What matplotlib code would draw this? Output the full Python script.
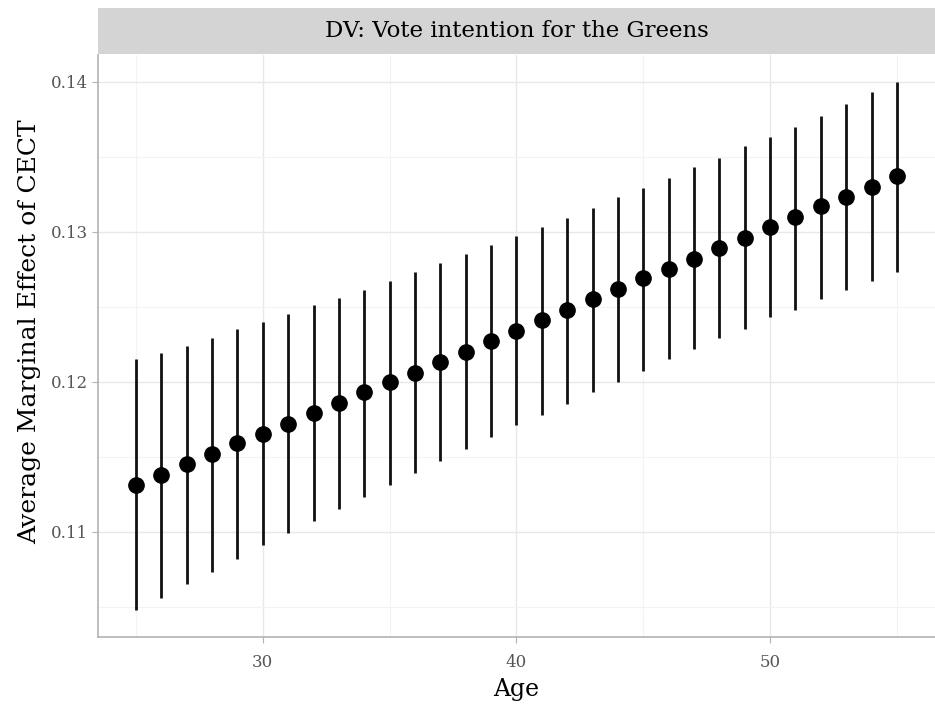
import numpy as np
from matplotlib import pyplot as plt
from matplotlib.ticker import MultipleLocator

# average marginal effect of CECT by age
age = np.arange(25, 56)
ame = [0.1131, 0.1138, 0.1145, 0.1152, 0.1159, 0.1165, 0.1172, 0.1179, 0.1186, 0.1193,
       0.1200, 0.1206, 0.1213, 0.1220, 0.1227, 0.1234, 0.1241, 0.1248, 0.1255, 0.1262,
       0.1269, 0.1275, 0.1282, 0.1289, 0.1296, 0.1303, 0.1310, 0.1317, 0.1323, 0.1330,
       0.1337]
lower = [0.1048, 0.1056, 0.1065, 0.1073, 0.1082, 0.1091, 0.1099, 0.1107, 0.1115, 0.1123,
         0.1131, 0.1139, 0.1147, 0.1155, 0.1163, 0.1171, 0.1178, 0.1185, 0.1193, 0.1200,
         0.1207, 0.1215, 0.1222, 0.1229, 0.1235, 0.1243, 0.1248, 0.1255, 0.1261, 0.1267,
         0.1273]
upper = [0.1215, 0.1219, 0.1224, 0.1229, 0.1235, 0.1240, 0.1245, 0.1251, 0.1256, 0.1261,
         0.1267, 0.1273, 0.1279, 0.1285, 0.1291, 0.1297, 0.1303, 0.1309, 0.1316, 0.1323,
         0.1329, 0.1336, 0.1343, 0.1349, 0.1357, 0.1363, 0.1370, 0.1377, 0.1385, 0.1393,
         0.1400]

plt.rcParams['font.family'] = ['DejaVu Serif']

fig = plt.figure(figsize=(9.35, 7.04), dpi=100)
ax = fig.add_axes([0.1048, 0.0952, 0.8952, 0.8267])

ax.vlines(age, lower, upper, color='#111111', linewidth=2.0, zorder=3)
ax.plot(age, ame, 'o', color='black', markersize=11, zorder=4)

ax.set_xlim(23.5, 56.5)
ax.set_ylim(0.1030, 0.1418)
ax.xaxis.set_major_locator(MultipleLocator(10))
ax.xaxis.set_minor_locator(MultipleLocator(5))
ax.yaxis.set_major_locator(MultipleLocator(0.01))
ax.yaxis.set_minor_locator(MultipleLocator(0.005))
ax.set_yticks([0.11, 0.12, 0.13, 0.14])
ax.set_yticklabels(['0.11', '0.12', '0.13', '0.14'])
ax.grid(True, which='major', color='#e8e8e8', linewidth=1.0)
ax.grid(True, which='minor', color='#f3f3f3', linewidth=0.8)
ax.set_axisbelow(True)
ax.tick_params(which='major', length=4, color='#b3b3b3', labelcolor='#555555', labelsize=12)
ax.tick_params(axis='x', which='major', pad=8)
ax.tick_params(which='minor', length=0)

for side in ['left', 'bottom']:
    ax.spines[side].set_color('#b3b3b3')
    ax.spines[side].set_linewidth(1.2)
for side in ['top', 'right']:
    ax.spines[side].set_visible(False)

ax.set_xlabel("Age", fontsize=17, labelpad=5)
ax.set_ylabel("Average Marginal Effect of CECT", fontsize=18, labelpad=7)
ax.yaxis.label.set_y(0.525)

# facet strip
strip = fig.add_axes([0.1048, 0.9233, 0.8952, 0.0653])
strip.set_facecolor('#d4d4d4')
strip.set_xticks([])
strip.set_yticks([])
for s in strip.spines.values():
    s.set_visible(False)
strip.text(0.5, 0.5, "DV: Vote intention for the Greens", ha='center', va='center',
           fontsize=16.5, transform=strip.transAxes)

fig.savefig("out.png", dpi=100)
